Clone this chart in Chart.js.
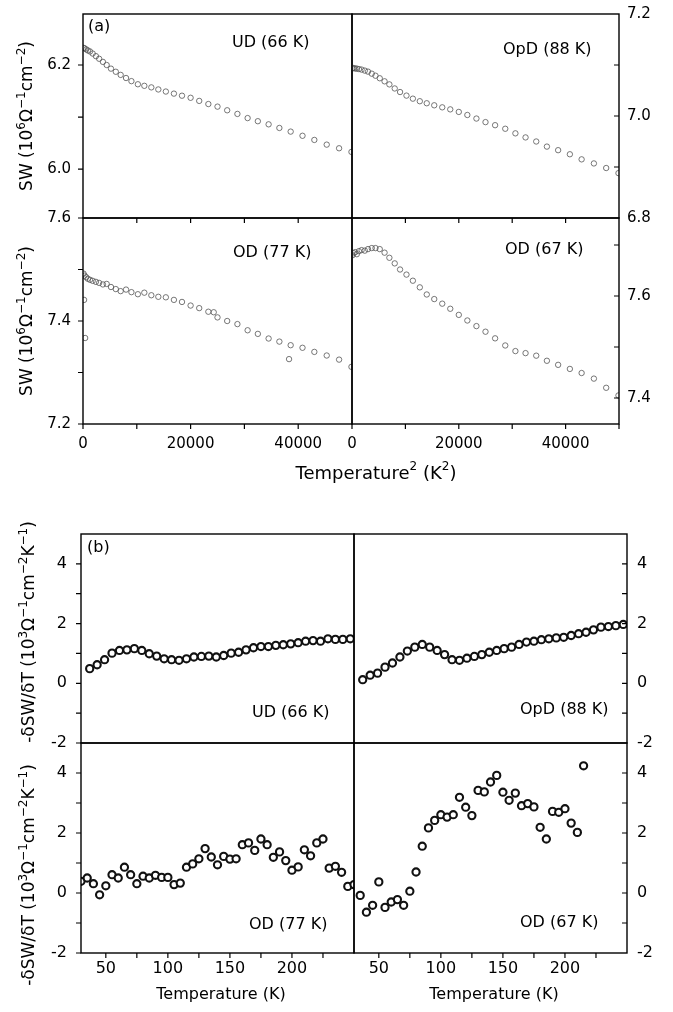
<!DOCTYPE html>
<html>
<head>
<meta charset="utf-8">
<script src="https://cdn.jsdelivr.net/npm/chart.js@4.4.1/dist/chart.umd.min.js"></script>
<style>
  body { margin: 0; background: #fff; overflow: hidden; }
  #wrap { position: relative; width: 673px; height: 1012px; overflow: hidden; }
  #wrap canvas { position: absolute; left: -40px; top: -40px; }
</style>
</head>
<body>
<div id="wrap"></div>
<script>
// ---- (a) spectral weight vs T^2 ----
const aX = [100, 300, 600, 900, 1300, 1800, 2400, 3000, 3700, 4400, 5200, 6100, 7000, 8000, 9000, 10200, 11400, 12700, 14000, 15400,
  16900, 18400, 20000, 21600, 23300, 25000, 26800, 28700, 30600, 32500, 34500, 36500, 38600, 40800, 43000, 45300, 47600, 49900];
const aUD = [6.233, 6.232, 6.230, 6.228, 6.226, 6.222, 6.217, 6.212, 6.206, 6.200, 6.193, 6.187, 6.181, 6.175, 6.169, 6.163, 6.160, 6.157, 6.153, 6.149,
  6.145, 6.141, 6.137, 6.131, 6.125, 6.120, 6.113, 6.106, 6.098, 6.092, 6.086, 6.079, 6.072, 6.064, 6.056, 6.047, 6.040, 6.033];
const aOpD = [7.094, 7.094, 7.093, 7.093, 7.092, 7.091, 7.089, 7.087, 7.083, 7.079, 7.074, 7.068, 7.062, 7.054, 7.047, 7.040, 7.034, 7.029, 7.025, 7.021,
  7.017, 7.013, 7.008, 7.002, 6.995, 6.988, 6.982, 6.975, 6.966, 6.958, 6.950, 6.940, 6.933, 6.925, 6.915, 6.907, 6.898, 6.888];
const aOD77 = [7.492, 7.488, 7.485, 7.482, 7.480, 7.478, 7.476, 7.474, 7.471, 7.472, 7.466, 7.462, 7.458, 7.461, 7.456, 7.452, 7.455, 7.450, 7.447, 7.446,
  7.441, 7.437, 7.430, 7.425, 7.418, 7.407, 7.400, 7.394, 7.382, 7.375, 7.366, 7.360, 7.353, 7.348, 7.340, 7.333, 7.325, 7.311];
const aOD77oX = [200, 400, 24300, 38300];
const aOD77oY = [7.441, 7.367, 7.417, 7.326];
const aOD67 = [7.680, 7.684, 7.686, 7.682, 7.688, 7.690, 7.689, 7.692, 7.694, 7.694, 7.692, 7.685, 7.675, 7.664, 7.652, 7.642, 7.630, 7.617, 7.603, 7.594,
  7.585, 7.575, 7.563, 7.552, 7.541, 7.530, 7.517, 7.503, 7.492, 7.488, 7.483, 7.473, 7.465, 7.457, 7.449, 7.438, 7.420, 7.405];

// ---- (b) -dSW/dT vs T ----
const bT6 = [37, 43, 49, 55, 61, 67, 73, 79, 85, 91, 97, 103, 109, 115, 121, 127, 133, 139, 145, 151, 157, 163, 169, 175, 181, 187, 193, 199,
  205, 211, 217, 223, 229, 235, 241, 247];
const bUD = [0.49, 0.62, 0.79, 1.01, 1.10, 1.12, 1.16, 1.10, 0.99, 0.91, 0.82, 0.79, 0.77, 0.82, 0.88, 0.90, 0.91, 0.88, 0.93, 1.01,
  1.04, 1.12, 1.19, 1.23, 1.23, 1.27, 1.29, 1.32, 1.36, 1.41, 1.43, 1.41, 1.49, 1.47, 1.47, 1.49];
const bOpD = [0.12, 0.27, 0.34, 0.54, 0.68, 0.88, 1.08, 1.21, 1.30, 1.21, 1.10, 0.96, 0.79, 0.77, 0.84, 0.90, 0.96, 1.04, 1.10, 1.16,
  1.21, 1.30, 1.38, 1.41, 1.46, 1.49, 1.52, 1.54, 1.60, 1.66, 1.71, 1.79, 1.88, 1.90, 1.93, 1.97];
const bT77 = [30, 35, 40, 45, 50, 55, 60, 65, 70, 75, 80, 85, 90, 95, 100, 105, 110, 115, 120, 125, 130, 135, 140, 145, 150, 155, 160,
  165, 170, 175, 180, 185, 190, 195, 200, 205, 210, 215, 220, 225, 230, 235, 240, 245, 250];
const bOD77 = [0.39, 0.50, 0.31, -0.06, 0.24, 0.61, 0.50, 0.86, 0.61, 0.31, 0.56, 0.50, 0.59, 0.52, 0.52, 0.28, 0.33, 0.86, 0.97, 1.14,
  1.48, 1.20, 0.94, 1.22, 1.13, 1.14, 1.61, 1.67, 1.42, 1.80, 1.61, 1.19, 1.37, 1.08, 0.76, 0.87, 1.44, 1.24, 1.67, 1.80,
  0.83, 0.89, 0.69, 0.22, 0.28];
const bT67 = [35, 40, 45, 50, 55, 60, 65, 70, 75, 80, 85, 90, 95, 100, 105, 110, 115, 120, 125, 130, 135, 140, 145, 150, 155, 160,
  165, 170, 175, 180, 185, 190, 195, 200, 205, 210, 215];
const bOD67 = [-0.08, -0.64, -0.41, 0.37, -0.48, -0.30, -0.22, -0.41, 0.06, 0.70, 1.56, 2.17, 2.42, 2.61, 2.53, 2.61, 3.19, 2.86, 2.58, 3.42,
  3.37, 3.70, 3.92, 3.36, 3.09, 3.33, 2.91, 2.98, 2.87, 2.19, 1.80, 2.72, 2.69, 2.81, 2.33, 2.02, 4.24];

// tick labels
const aXTicks = [0, 20000, 40000];
const bXTicks = [50, 100, 150, 200];
const bYTicks = [-2, 0, 2, 4];

const FONT = '"DejaVu Sans", "Liberation Sans", Arial, sans-serif';
const W = 673, H = 1012;
const OFF = 40;          // canvas sticks out OFF px on every side
const AXW = 70, AXR = 50, AXH = 50;
const wrap = document.getElementById('wrap');

const pts = (xs, ys) => xs.map((x, i) => ({ x: x, y: ys[i] }));

function openDots(xs, ys) {
  return { data: pts(xs, ys), pointRadius: 2.7, pointBorderWidth: 0.8, pointBorderColor: '#555',
    pointBackgroundColor: 'rgba(0,0,0,0)', showLine: false };
}
function ringDots(xs, ys) {
  return [
    { data: pts(xs, ys), pointRadius: 3.6, pointBorderWidth: 2.1, pointBorderColor: '#111', pointBackgroundColor: '#fff', showLine: false },
    { data: pts(xs, ys), pointRadius: 0.9, pointBorderWidth: 0, pointBackgroundColor: '#444', showLine: false }
  ];
}

// text with ^superscripts
function richParts(str) {
  const out = [];
  const re = /\^(-?\d)/g;
  let last = 0, m;
  while ((m = re.exec(str))) {
    if (m.index > last) out.push([str.slice(last, m.index), false]);
    out.push([m[1].replace('-', '\u2212'), true]);
    last = re.lastIndex;
  }
  if (last < str.length) out.push([str.slice(last), false]);
  return out;
}

function drawRich(ctx, t) {
  const parts = richParts(t.text);
  const big = t.size + 'px ' + FONT;
  const small = Math.round(t.size * 0.68) + 'px ' + FONT;
  let w = 0;
  parts.forEach(p => { ctx.font = p[1] ? small : big; p.w = ctx.measureText(p[0]).width; w += p.w; });
  ctx.save();
  ctx.translate(t.x + OFF, t.y + OFF);
  if (t.rot) ctx.rotate(-Math.PI / 2);
  let x = t.align === 'left' ? 0 : -w / 2;
  ctx.textBaseline = 'middle';
  ctx.textAlign = 'left';
  ctx.fillStyle = '#000';
  parts.forEach(p => {
    ctx.font = p[1] ? small : big;
    ctx.fillText(p[0], x, p[1] ? -t.size * 0.38 : 0);
    x += p.w;
  });
  ctx.restore();
}

function drawFrame(chart, p) {
  const { ctx, chartArea: a, scales } = chart;
  ctx.save();
  ctx.strokeStyle = '#000';
  ctx.lineWidth = 1.4;
  ctx.strokeRect(a.left, a.top, a.right - a.left, a.bottom - a.top);
  ctx.lineWidth = 1.2;
  const len = 5;
  ctx.beginPath();
  (p.marks.left || []).forEach(v => {
    const y = scales.y.getPixelForValue(v);
    ctx.moveTo(a.left - len, y); ctx.lineTo(a.left, y);
  });
  (p.marks.right || []).forEach(v => {
    const y = scales.y.getPixelForValue(v);
    ctx.moveTo(a.right - len, y); ctx.lineTo(a.right, y);
  });
  (p.marks.bottom || []).forEach(v => {
    const x = scales.x.getPixelForValue(v);
    ctx.moveTo(x, a.bottom); ctx.lineTo(x, a.bottom + len);
  });
  ctx.stroke();
  (p.texts || []).forEach(t => drawRich(ctx, t));
  ctx.restore();
}

function makePanel(p) {
  const cv = document.createElement('canvas');
  cv.width = W + 2 * OFF; cv.height = H + 2 * OFF;
  wrap.appendChild(cv);
  const yW = p.ySide === 'left' ? AXW : AXR;
  const pad = {
    left: p.box[0] + OFF - (p.ySide === 'left' ? AXW : 0),
    right: W + OFF - p.box[2] - (p.ySide === 'right' ? AXR : 0),
    top: p.box[1] + OFF,
    bottom: H + OFF - p.box[3] - AXH
  };
  new Chart(cv.getContext('2d'), {
    type: 'scatter',
    data: { datasets: p.datasets },
    options: {
      responsive: false,
      animation: false,
      layout: { padding: pad },
      plugins: { legend: { display: false }, tooltip: { enabled: false } },
      scales: {
        x: {
          type: 'linear', position: 'bottom', min: p.x[0], max: p.x[1],
          grid: { display: false, drawTicks: false }, border: { display: false },
          afterFit: s => { s.height = AXH; },
          afterBuildTicks: s => { s.ticks = p.xTicks.map(v => ({ value: v })); },
          ticks: { display: p.xShow, maxRotation: 0, padding: p.xPad, color: '#000',
            font: { family: FONT, size: p.tickSize }, callback: v => String(v) }
        },
        y: {
          type: 'linear', position: p.ySide, min: p.y[0], max: p.y[1],
          grid: { display: false, drawTicks: false }, border: { display: false },
          afterFit: s => { s.width = yW; },
          afterBuildTicks: s => { s.ticks = p.yTicks.map(v => ({ value: v })); },
          ticks: { padding: p.yPad, color: '#000', font: { family: FONT, size: p.tickSize },
            callback: v => p.yDec ? v.toFixed(p.yDec) : String(v) }
        }
      }
    },
    plugins: [{ id: 'frame', afterDatasetsDraw: chart => drawFrame(chart, p) }]
  });
}

const aTitleY = 'SW (10^6Ω^-1cm^-2)';
const bTitleY = '-δSW/δT (10^3Ω^-1cm^-2K^-1)';

// (a) upper left: UD
makePanel({
  box: [83, 14, 352, 218], x: [0, 50000], y: [5.906, 6.298], ySide: 'left',
  xTicks: aXTicks, xShow: false, xPad: 11, yTicks: [6.0, 6.2], yDec: 1, yPad: 12, tickSize: 15,
  datasets: [openDots(aX, aUD)],
  marks: { left: [6.0, 6.1, 6.2], bottom: [10000, 20000, 30000, 40000] },
  texts: [
    { text: '(a)', x: 88, y: 27, size: 16, align: 'left' },
    { text: 'UD (66 K)', x: 232, y: 43, size: 16, align: 'left' },
    { text: aTitleY, x: 28, y: 116, size: 17, rot: true }
  ]
});
// (a) upper right: OpD
makePanel({
  box: [352, 14, 619, 218], x: [0, 50000], y: [6.8, 7.2], ySide: 'right',
  xTicks: aXTicks, xShow: false, xPad: 11, yTicks: [6.8, 7.0, 7.2], yDec: 1, yPad: 8, tickSize: 15,
  datasets: [openDots(aX, aOpD)],
  marks: { right: [6.9, 7.0, 7.1], bottom: [10000, 20000, 30000, 40000] },
  texts: [{ text: 'OpD (88 K)', x: 503, y: 50, size: 16, align: 'left' }]
});
// (a) lower left: OD 77 K
makePanel({
  box: [83, 218, 352, 424], x: [0, 50000], y: [7.2, 7.6], ySide: 'left',
  xTicks: aXTicks, xShow: true, xPad: 11, yTicks: [7.2, 7.4, 7.6], yDec: 1, yPad: 12, tickSize: 15,
  datasets: [openDots(aX, aOD77), openDots(aOD77oX, aOD77oY)],
  marks: { left: [7.2, 7.3, 7.4, 7.5, 7.6], bottom: [0, 10000, 20000, 30000, 40000] },
  texts: [
    { text: 'OD (77 K)', x: 233, y: 253, size: 16, align: 'left' },
    { text: aTitleY, x: 28, y: 321, size: 17, rot: true },
    { text: 'Temperature^2 (K^2)', x: 376, y: 474, size: 18 }
  ]
});
// (a) lower right: OD 67 K
makePanel({
  box: [352, 218, 619, 424], x: [0, 50000], y: [7.349, 7.753], ySide: 'right',
  xTicks: aXTicks, xShow: true, xPad: 11, yTicks: [7.4, 7.6], yDec: 1, yPad: 8, tickSize: 15,
  datasets: [openDots(aX, aOD67)],
  marks: { right: [7.4, 7.5, 7.6, 7.7], bottom: [0, 10000, 20000, 30000, 40000, 50000] },
  texts: [{ text: 'OD (67 K)', x: 505, y: 250, size: 16, align: 'left' }]
});

// (b) upper left: UD
makePanel({
  box: [81, 534, 354, 743], x: [30, 250], y: [-2, 5], ySide: 'left',
  xTicks: bXTicks, xShow: false, xPad: 6, yTicks: bYTicks, yPad: 14, tickSize: 16,
  datasets: ringDots(bT6, bUD),
  marks: { left: [-2, -1, 0, 1, 2, 3, 4] },
  texts: [
    { text: '(b)', x: 87, y: 548, size: 16, align: 'left' },
    { text: 'UD (66 K)', x: 252, y: 713, size: 16, align: 'left' },
    { text: bTitleY, x: 30, y: 632, size: 17, rot: true }
  ]
});
// (b) upper right: OpD
makePanel({
  box: [354, 534, 627, 743], x: [30, 250], y: [-2, 5], ySide: 'right',
  xTicks: bXTicks, xShow: false, xPad: 6, yTicks: bYTicks, yPad: 10, tickSize: 16,
  datasets: ringDots(bT6, bOpD),
  marks: { right: [-1, 0, 1, 2, 3, 4] },
  texts: [{ text: 'OpD (88 K)', x: 520, y: 710, size: 16, align: 'left' }]
});
// (b) lower left: OD 77 K
makePanel({
  box: [81, 743, 354, 953], x: [30, 250], y: [-2, 5], ySide: 'left',
  xTicks: bXTicks, xShow: true, xPad: 6, yTicks: bYTicks, yPad: 14, tickSize: 16,
  datasets: ringDots(bT77, bOD77),
  marks: { left: [-2, -1, 0, 1, 2, 3, 4], bottom: [50, 75, 100, 125, 150, 175, 200, 225] },
  texts: [
    { text: 'OD (77 K)', x: 249, y: 925, size: 16, align: 'left' },
    { text: bTitleY, x: 30, y: 875, size: 17, rot: true },
    { text: 'Temperature (K)', x: 221, y: 995, size: 16 }
  ]
});
// (b) lower right: OD 67 K
makePanel({
  box: [354, 743, 627, 953], x: [30, 250], y: [-2, 5], ySide: 'right',
  xTicks: bXTicks, xShow: true, xPad: 6, yTicks: bYTicks, yPad: 10, tickSize: 16,
  datasets: ringDots(bT67, bOD67),
  marks: { right: [-1, 0, 1, 2, 3, 4], bottom: [50, 75, 100, 125, 150, 175, 200, 225] },
  texts: [
    { text: 'OD (67 K)', x: 520, y: 923, size: 16, align: 'left' },
    { text: 'Temperature (K)', x: 494, y: 995, size: 16 }
  ]
});
</script>
</body>
</html>
